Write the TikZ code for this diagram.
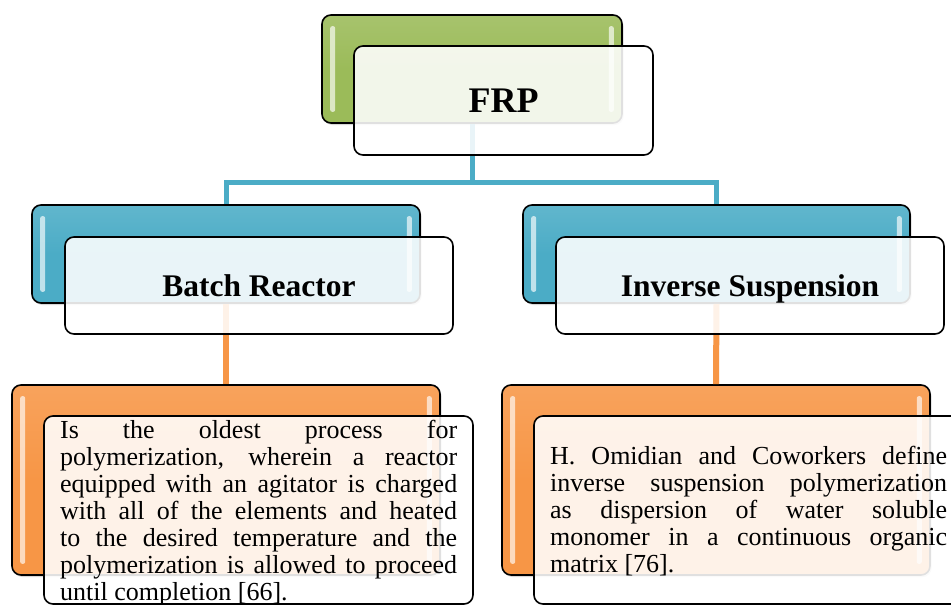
\documentclass[tikz,border=0pt]{standalone}
\usepackage{fontspec}
\setmainfont{Liberation Serif}
\usetikzlibrary{shadows}
\definecolor{cgreen}{HTML}{9BBB59}
\definecolor{cteal}{HTML}{4BACC6}
\definecolor{corange}{HTML}{F79646}
\tikzset{
  backbox/.style={draw=black, line width=1.6pt, rounded corners=9pt, inner sep=0pt,
    top color=#1!88!white, bottom color=#1, middle color=#1, shading angle=0,
    drop shadow={shadow xshift=1.5pt, shadow yshift=-2pt, opacity=0.3}},
  frontbox/.style={draw=black, line width=1.6pt, rounded corners=9pt, inner sep=0pt,
    fill=white, fill opacity=0.88, text opacity=1, text depth=0pt},
  glint/.style={fill=white, fill opacity=0.65, rounded corners=2pt, draw=none},
  tealline/.style={draw=cteal, line width=5pt},
  orangeline/.style={draw=corange, line width=6pt},
  toptitle/.style={font=\bfseries\fontsize{36pt}{40pt}\selectfont},
  title/.style={font=\bfseries\fontsize{31.5pt}{36pt}\selectfont},
  bodytext/.style={inner sep=0pt, anchor=base west},
}
\newcommand\glints[1]{%
  \fill[glint] ([xshift=9pt,yshift=-12pt]#1.north west) rectangle ([xshift=14pt,yshift=12pt]#1.south west);
  \fill[glint] ([xshift=-14pt,yshift=-12pt]#1.north east) rectangle ([xshift=-9pt,yshift=12pt]#1.south east);
}
\newcommand\bodyfont{\fontsize{26pt}{27pt}\selectfont}
\begin{document}
\begin{tikzpicture}[x=1pt, y=-1pt]
\clip (0,0) rectangle (951,605);
\fill[white] (0,0) rectangle (951,605);

% back boxes
\node[backbox=cgreen, minimum width=300pt, minimum height=108pt] (frpback) at (472,69) {};
\node[backbox=cteal, minimum width=388pt, minimum height=98pt] (brback) at (226,254) {};
\node[backbox=cteal, minimum width=387pt, minimum height=98pt] (isback) at (716.5,254) {};
\node[backbox=corange, minimum width=428pt, minimum height=190pt] (blback) at (226,480) {};
\node[backbox=corange, minimum width=428pt, minimum height=190pt] (brtback) at (716,480) {};
\coordinate (bus) at (472,182);

% connectors
\draw[tealline] (frpback.south) -- (bus) -| (brback.north);
\draw[tealline] (bus) -| (isback.north);
\draw[orangeline] (brback.south) -- (blback.north);
\draw[orangeline] (isback.south) -- (brtback.north);

\glints{frpback}
\glints{brback}
\glints{isback}
\glints{blback}
\glints{brtback}

% front boxes
\node[frontbox, minimum width=299pt, minimum height=109pt, toptitle] (frpfront) at (503.5,100.5) {FRP};
\node[frontbox, minimum width=388pt, minimum height=97pt, title] (brfront) at (259,285.5) {Batch Reactor};
\node[frontbox, minimum width=388pt, minimum height=97pt, title] (isfront) at (750,285.5) {Inverse Suspension};
\node[frontbox, minimum width=429pt, minimum height=188pt] (blfront) at (258.5,510) {};
\node[frontbox, minimum width=429pt, minimum height=188pt] (brtfront) at (748.5,510) {};

% body texts
\node[bodytext] (bltext) at (60,438) {\parbox[t]{397pt}{\bodyfont
Is the oldest process for\linebreak
polymerization, wherein a reactor\linebreak
equipped with an agitator is charged\linebreak
with all of the elements and heated\linebreak
to the desired temperature and the\linebreak
polymerization is allowed to proceed\linebreak
until completion [66].}};
\node[bodytext] (brttext) at (550,464) {\parbox[t]{397pt}{\bodyfont
H. Omidian and Coworkers define\linebreak
inverse suspension polymerization\linebreak
as dispersion of water soluble\linebreak
monomer in a continuous organic\linebreak
matrix [76].}};
\end{tikzpicture}
\end{document}
